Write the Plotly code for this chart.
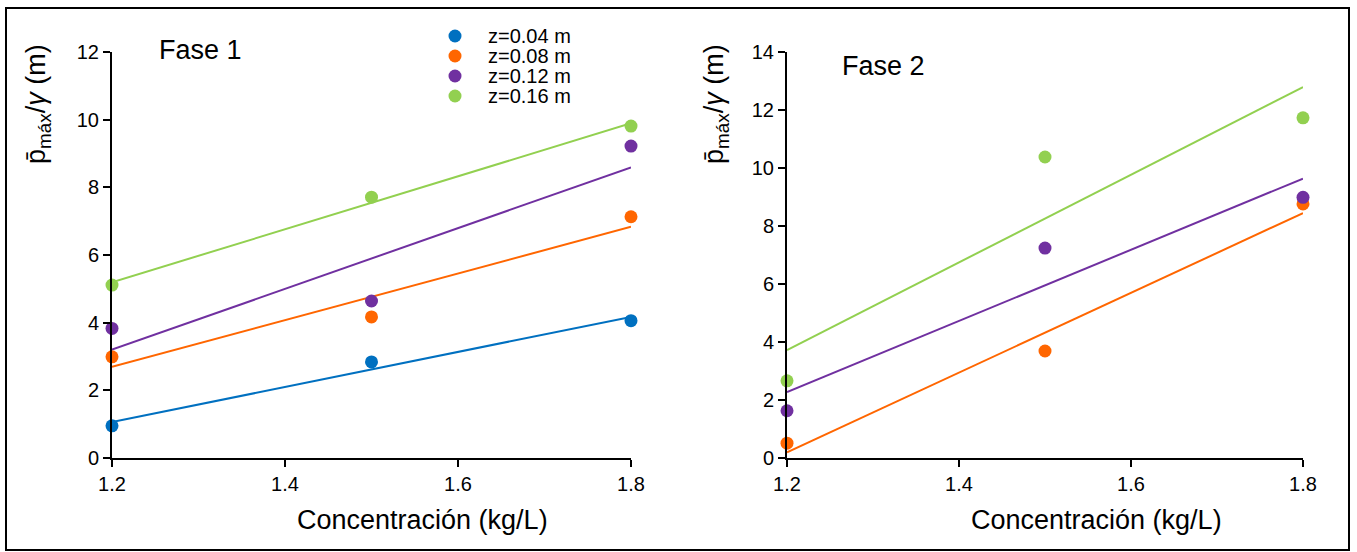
import numpy as np
import plotly.graph_objects as go

# ---- data ----
conc = [1.2, 1.5, 1.8]
series_names = ["z=0.04 m", "z=0.08 m", "z=0.12 m", "z=0.16 m"]
colors = ["#0070C0", "#FF6600", "#7030A0", "#92D050"]

fase1_z004 = [0.95, 2.84, 4.06]
fase1_z008 = [2.99, 4.17, 7.13]
fase1_z012 = [3.83, 4.64, 9.22]
fase1_z016 = [5.11, 7.71, 9.81]

fase2_z008 = [0.51, 3.69, 8.76]
fase2_z012 = [1.63, 7.24, 8.99]
fase2_z016 = [2.66, 10.38, 11.73]

x_ticks = [1.2, 1.4, 1.6, 1.8]
y1_ticks = [0, 2, 4, 6, 8, 10, 12]
y2_ticks = [0, 2, 4, 6, 8, 10, 12, 14]

FONT = "Liberation Sans, Arial, sans-serif"

fig = go.Figure()

def add_series(ys, color, name, xa, ya):
    xs = np.array(conc)
    m, b = np.polyfit(xs, np.array(ys), 1)
    xl = np.array([conc[0], conc[-1]])
    fig.add_trace(go.Scatter(x=xl, y=m * xl + b, mode="lines",
                             line=dict(color=color, width=2),
                             xaxis=xa, yaxis=ya, showlegend=False, hoverinfo="skip"))
    fig.add_trace(go.Scatter(x=conc, y=ys, mode="markers", name=name,
                             marker=dict(color=color, size=13),
                             xaxis=xa, yaxis=ya, showlegend=False,
                             cliponaxis=False))

for ys, c, n in zip([fase1_z004, fase1_z008, fase1_z012, fase1_z016], colors, series_names):
    add_series(ys, c, n, "x", "y")
for ys, c, n in zip([fase2_z008, fase2_z012, fase2_z016], colors[1:], series_names[1:]):
    add_series(ys, c, n, "x2", "y2")

L, R, T, B = 112, 54, 52, 94
W, H = 1357, 552
pw = W - L - R
ph = H - T - B

def px_x(p):
    return (p - L) / pw

def px_y(p):
    return (H - B - p) / ph

axis_common = dict(showline=True, linecolor="black", linewidth=2, ticks="outside",
                   ticklen=7, tickwidth=2, tickcolor="black", showgrid=False,
                   zeroline=False, tickfont=dict(family=FONT, size=20, color="black"))

fig.update_layout(
    width=W, height=H,
    margin=dict(l=L, r=R, t=T, b=B),
    paper_bgcolor="white", plot_bgcolor="white",
    font=dict(family=FONT, color="black"),
    xaxis=dict(domain=[0, px_x(631)], range=[1.2, 1.8], tickvals=x_ticks,
               tickformat=".1f", anchor="y", **axis_common),
    yaxis=dict(domain=[0, 1], range=[0, 12], tickvals=y1_ticks, anchor="x", **axis_common),
    xaxis2=dict(domain=[px_x(787), 1], range=[1.2, 1.8], tickvals=x_ticks,
                tickformat=".1f", anchor="y2", **axis_common),
    yaxis2=dict(domain=[0, 1], range=[0, 14], tickvals=y2_ticks, anchor="x2", **axis_common),
    showlegend=False,
)

ytitle = "p\u0304<sub>máx</sub>/<i>γ</i> (m)"
ann_font = dict(family=FONT, size=27, color="black")
annotations = [
    dict(text="Fase 1", x=px_x(157), y=px_y(50), xanchor="left", yanchor="middle"),
    dict(text="Fase 2", x=px_x(840), y=px_y(66), xanchor="left", yanchor="middle"),
    dict(text="Concentración (kg/L)", x=px_x(422), y=px_y(520), xanchor="center", yanchor="middle"),
    dict(text="Concentración (kg/L)", x=px_x(1096), y=px_y(520), xanchor="center", yanchor="middle"),
    dict(text=ytitle, x=px_x(38), y=px_y(104), xanchor="center", yanchor="middle", textangle=-90),
    dict(text=ytitle, x=px_x(716), y=px_y(104), xanchor="center", yanchor="middle", textangle=-90),
]
for a in annotations:
    a.update(xref="paper", yref="paper", showarrow=False, font=ann_font)

# legend (drawn manually to match the compact row spacing)
leg_rows = [36, 56, 76, 96]
for name, c, yy in zip(series_names, colors, leg_rows):
    annotations.append(dict(text=name, x=px_x(487), y=px_y(yy), xanchor="left", yanchor="middle",
                            xref="paper", yref="paper", showarrow=False, height=18,
                            borderpad=0, valign="middle",
                            font=dict(family=FONT, size=20, color="black")))
    fig.add_shape(type="circle", xref="paper", yref="paper",
                  x0=px_x(455 - 6.5), x1=px_x(455 + 6.5), y0=px_y(yy + 6.5), y1=px_y(yy - 6.5),
                  fillcolor=c, line=dict(width=0))
fig.update_layout(annotations=annotations)

fig.add_shape(type="rect", xref="paper", yref="paper",
              x0=px_x(6), x1=px_x(1349), y0=px_y(550), y1=px_y(8),
              line=dict(color="black", width=2), fillcolor="rgba(0,0,0,0)")

fig.write_html("out.html",
               config={"displayModeBar": False},
               post_script="document.body.style.margin='0';"
                           "document.body.style.overflow='hidden';"
                           "document.documentElement.style.overflow='hidden';")
